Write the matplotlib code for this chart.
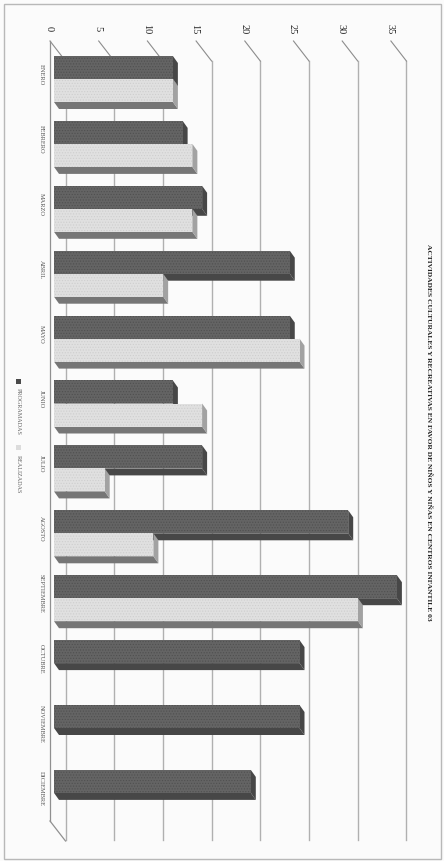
import matplotlib
matplotlib.use("Agg")
import matplotlib.pyplot as plt
from matplotlib.patches import Polygon, Rectangle

meses = ["ENERO", "FEBRERO", "MARZO", "ABRIL", "MAYO", "JUNIO", "JULIO", "AGOSTO",
         "SEPTIEMBRE", "OCTUBRE", "NOVIEMBRE", "DICIEMBRE"]
programadas = [12, 13, 15, 24, 24, 12, 15, 30, 35, 25, 25, 20]
realizadas = [12, 14, 14, 11, 25, 15, 5, 10, 31, 0, 0, 0]
ticks = [0, 5, 10, 15, 20, 25, 30, 35]
titulo = "ACTIVIDADES CULTURALES Y RECREATIVAS EN FAVOR DE NIÑOS Y NIÑAS EN CENTROS INFANTILE 03"

plt.rcParams["font.family"] = ["Liberation Serif", "DejaVu Serif"]
plt.rcParams["hatch.linewidth"] = 0.5

W, H = 444, 862
PX_V = 9.74   # pixels per unit of value
PX_C = 64.9   # pixels per category
X0 = 56       # pixel of value 0 on the bars' front plane

fig = plt.figure(figsize=(W / 100, H / 100), dpi=100, facecolor="#fbfbfb")
ax = fig.add_axes([0, 0, 1, 1])
# one value unit across, one month down; the picture is a chart turned on its side
ax.set_xlim(-X0 / PX_V, (W - X0) / PX_V)
ax.set_ylim((H - 57) / PX_C, -57 / PX_C)
ax.axis("off")

dv_bar, dc_bar = 5 / PX_V, 7 / PX_C
dv_wall, dc_wall = 15.5 / PX_V, 20 / PX_C
bar_h = 23 / PX_C
wall_v = (50 - X0) / PX_V   # front edge of the floor
base = (54 - X0) / PX_V     # where the bars start
top = -15 / PX_C
bottom = 765 / PX_C

# page frame
ax.add_patch(Rectangle(((4 - X0) / PX_V, -52 / PX_C), 437 / PX_V, 855 / PX_C, fill=False,
                       ec="#b8b8b8", lw=1.0))

# grid on the back wall, with the slanted ticks running to the labels
for t in ticks:
    x = t + wall_v + dv_wall
    ax.plot([x, x], [top + dc_wall, bottom + dc_wall - 1 / PX_C], color="#b0b0b0", lw=1.0, zorder=1)
    ax.plot([t + wall_v, x], [top, top + dc_wall], color="#8c8c8c", lw=0.8, zorder=1)
    ax.text(t + wall_v - 1 / PX_V, top - 13 / PX_C, str(t), rotation=-90, ha="center", va="center",
            fontsize=7.5, color="#222222")

# floor edges
ax.plot([wall_v, wall_v], [top, bottom], color="#909090", lw=0.9, zorder=1)
ax.plot([wall_v, wall_v + dv_wall], [bottom, bottom + dc_wall], color="#909090", lw=0.9, zorder=1)


def barra(y, valor, cara, trama, lado, suelo):
    # front face comes from barh, the depth faces are added around it
    ax.fill([base, valor, valor + dv_bar, base + dv_bar],
            [y + bar_h, y + bar_h, y + bar_h + dc_bar, y + bar_h + dc_bar],
            color=suelo, lw=0, zorder=3)
    ax.add_patch(Polygon([(valor, y), (valor + dv_bar, y + dc_bar),
                          (valor + dv_bar, y + bar_h + dc_bar), (valor, y + bar_h)],
                         color=lado, lw=0, zorder=3))
    ax.barh(y, valor - base, left=base, height=bar_h, align="edge", color=cara, hatch="......",
            edgecolor=trama, lw=0, zorder=3)


for i, mes in enumerate(meses):
    barra(i, programadas[i], "#646464", "#505050", "#474747", "#474747")
    if realizadas[i] > 0:
        barra(i + bar_h, realizadas[i], "#e0e0e0", "#cecece", "#a2a2a2", "#767676")
    ax.text(wall_v - 9 / PX_V, i + 0.27, mes, rotation=-90, ha="center", va="center",
            fontsize=4.6, color="#555555")

# title and legend
ax.text((429 - X0) / PX_V, (432.5 - 57) / PX_C, titulo, rotation=-90, ha="center", va="center",
        fontsize=5.37, fontweight="bold", color="#222222")

ax.add_patch(Rectangle(((15.5 - X0) / PX_V, (380 - 57) / PX_C), 5 / PX_V, 5 / PX_C, color="#4a4a4a", lw=0))
ax.text((18 - X0) / PX_V, (411.5 - 57) / PX_C, "PROGRAMADAS", rotation=-90, ha="center", va="center",
        fontsize=4.4, color="#666666")
ax.add_patch(Rectangle(((15.5 - X0) / PX_V, (446 - 57) / PX_C), 5 / PX_V, 5 / PX_C, color="#dcdcdc", lw=0))
ax.text((18 - X0) / PX_V, (474.5 - 57) / PX_C, "REALIZADAS", rotation=-90, ha="center", va="center",
        fontsize=4.4, color="#666666")

fig.savefig("out.png", dpi=100, facecolor=fig.get_facecolor())
